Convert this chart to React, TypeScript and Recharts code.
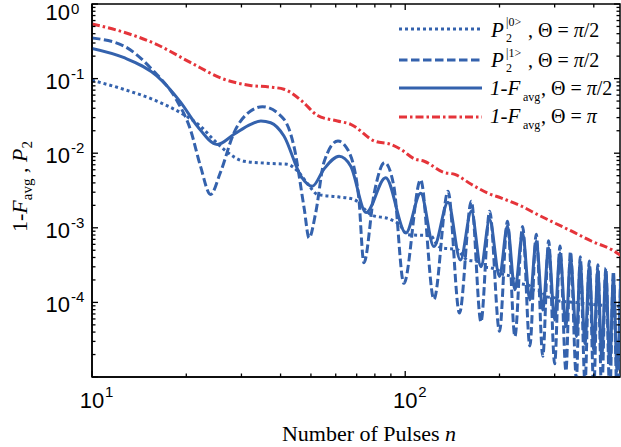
import React from 'react'
import { LineChart, Line, XAxis, YAxis, ReferenceArea } from 'recharts'

const BLUE = '#3462ad'
const RED = '#e5343a'

// [n, value] pairs, log-log axes
const p0Curve: [number, number][] = [
  [10, 0.095], [12.6, 0.072], [16.1, 0.05], [19.6, 0.033], [22.2, 0.023], [24.5, 0.015],
  [26.4, 0.0112], [30.6, 0.0078], [37, 0.0073], [42, 0.0071], [45.3, 0.0058], [49, 0.0038],
  [52.5, 0.0028], [61, 0.0026], [68.6, 0.0024], [74, 0.0018], [77.7, 0.0015], [90, 0.00129],
  [96, 0.0011], [101.6, 0.00081], [121, 0.00078], [124.5, 0.00065], [130, 0.00054],
  [147, 0.00051], [152, 0.00043], [158, 0.00037], [172, 0.00035], [178, 0.0003],
  [188, 0.00029], [198, 0.00027], [204, 0.00024], [218, 0.000223], [224, 0.0002],
  [230, 0.00018], [248, 0.00017], [255, 0.00015], [274, 0.00014], [280, 0.00012],
  [300, 0.000115], [306, 0.000105], [350, 0.0001], [405, 0.000093], [490, 0.000088],
]

const p1Curve: [number, number][] = [
  [10, 0.35], [12.6, 0.275], [15.7, 0.127], [18.7, 0.05], [20.6, 0.021], [22.2, 0.0067],
  [23.9, 0.0028], [25.7, 0.0055], [28.4, 0.0188], [32.1, 0.0368], [35, 0.042], [41, 0.0285],
  [44.1, 0.0125], [47.6, 0.0018], [49.3, 0.00073], [51.8, 0.0016], [55, 0.0075], [61, 0.0146],
  [65.5, 0.0112], [71, 0.00265], [73.8, 0.00034], [79.6, 0.0029], [86, 0.0075], [92, 0.0036],
  [99, 0.00018], [112, 0.0044], [123.5, 0.00011], [137, 0.0031], [149, 0.000072],
  [162.6, 0.00227], [174.5, 0.000055], [186, 0.00167], [200, 0.000041], [212, 0.00122],
  [224, 0.000035], [237, 0.00104], [250, 0.000026], [262, 0.00082], [275, 0.000019],
  [287, 0.00067], [300, 0.000015], [312, 0.00057], [326, 0.000012], [337, 0.00048],
  [352, 0.0000095], [362, 0.00041], [375, 0.000008], [387, 0.00036], [400, 0.000007],
  [412, 0.00032], [424, 0.000006], [437, 0.00029], [450, 0.0000055], [462, 0.00026],
  [475, 0.000005], [487, 0.00023],
]

const infidHalfPi: [number, number][] = [
  [10, 0.254], [12.6, 0.192], [16.1, 0.109], [19.2, 0.048], [21.7, 0.023], [25.1, 0.0131],
  [28.4, 0.0179], [32.1, 0.0244], [34.6, 0.027], [37.2, 0.0256], [41, 0.017], [46.5, 0.0049],
  [50.5, 0.0036], [55, 0.0061], [61.5, 0.0091], [67, 0.0067], [75, 0.0016], [86.6, 0.0047],
  [100.5, 0.00085], [112, 0.0029], [123.5, 0.00056], [137, 0.0022], [150, 0.00037],
  [162.6, 0.00167], [174.5, 0.0003], [186, 0.00129], [200, 0.000223], [212, 0.00105],
  [224, 0.000148], [237, 0.00085], [250, 0.000108], [262, 0.00066], [275, 0.000079],
  [287, 0.00054], [300, 0.000058], [312, 0.00046], [326, 0.000047], [337, 0.0004],
  [352, 0.000035], [362, 0.00034], [375, 0.000028], [387, 0.0003], [400, 0.000023],
  [412, 0.00027], [424, 0.000019], [437, 0.00024], [450, 0.000015], [462, 0.00021],
  [475, 0.000012], [487, 0.00019],
]

const infidPi: [number, number][] = [
  [10, 0.54], [12.6, 0.42], [16, 0.29], [20.6, 0.165], [26.4, 0.098], [32, 0.081],
  [37, 0.077], [41, 0.072], [46.8, 0.05], [52.5, 0.032], [60.8, 0.027], [67, 0.0244],
  [79.6, 0.0146], [90, 0.0131], [97, 0.0112], [107, 0.0084], [115, 0.0078], [133, 0.0055],
  [144, 0.0052], [163, 0.0038], [184, 0.0029], [203, 0.0025], [235, 0.00195], [265, 0.0015],
  [300, 0.00116], [340, 0.0009], [394, 0.00066], [456, 0.00051], [494, 0.00041],
]

const xDomain = [10, 485]
const yDomain = [1e-5, 1]
const xTicks = [10, 20, 30, 40, 50, 60, 70, 80, 90, 100, 200, 300, 400]
const yExponents = [-5, -4, -3, -2, -1]
const yTicks = [
  ...yExponents.flatMap((e) => [1, 2, 3, 4, 5, 6, 7, 8, 9].map((m) => m * Math.pow(10, e))),
  1,
]

const CHART_W = 621
const CHART_H = 447
const MARGIN = { top: 4, right: 1, left: 0, bottom: 0 }
const Y_AXIS_W = 92
const X_AXIS_H = 70
const PLOT_L = MARGIN.left + Y_AXIS_W
const PLOT_T = MARGIN.top
const PLOT_W = CHART_W - MARGIN.left - MARGIN.right - Y_AXIS_W
const PLOT_H = CHART_H - MARGIN.top - MARGIN.bottom - X_AXIS_H

const toRows = (pts: [number, number][]) => pts.map(([n, v]) => ({ n, v }))

const isMajor = (v: number) => {
  const l = Math.log10(v)
  return Math.abs(l - Math.round(l)) < 1e-9
}
const tickLen = (v: number) => (isMajor(v) ? 6 : 3.5)

// same log mapping as the chart's axes, used only for the inward minor/major tick marks
const tickX = (n: number) =>
  PLOT_L + (PLOT_W * Math.log10(n / xDomain[0])) / Math.log10(xDomain[1] / xDomain[0])
const tickY = (v: number) =>
  PLOT_T + PLOT_H * (1 - Math.log10(v / yDomain[0]) / Math.log10(yDomain[1] / yDomain[0]))

const SANS = 'Liberation Sans, Arial, sans-serif'
const SERIF = 'Liberation Serif, Times New Roman, serif'

function XTick(props: any) {
  const x = Number(props.x)
  const y = Number(props.y)
  const v = props.payload.value
  if (!isMajor(v)) return <g />
  const exp = Math.round(Math.log10(v))
  return (
    <g fontFamily={SANS} fill="#000">
      <text x={x} y={y + 31} fontSize={22} textAnchor="middle">10</text>
      <text x={x + 13} y={y + 20} fontSize={15}>{exp}</text>
    </g>
  )
}

function YTick(props: any) {
  const y = Number(props.y)
  const v = props.payload.value
  const exp = Math.round(Math.log10(v))
  if (!isMajor(v) || exp <= -5) return <g />
  const base = exp === 0 ? y + 16 : y + 10
  const sup = exp === 0 ? y + 10 : y
  return (
    <g fontFamily={SANS} fill="#000">
      <text x={70} y={base} fontSize={22} textAnchor="end">10</text>
      <text x={71} y={sup} fontSize={15}>{exp === 0 ? '0' : `-${-exp}`}</text>
    </g>
  )
}

function YTitle(props: any) {
  const vb = props.viewBox || { x: 0, y: PLOT_T, width: Y_AXIS_W, height: PLOT_H }
  const cx = 27
  const cy = vb.y + vb.height / 2 - 4
  return (
    <text
      x={cx}
      y={cy}
      transform={`rotate(-90, ${cx}, ${cy})`}
      textAnchor="middle"
      fontFamily={SERIF}
      fontSize={22}
      fill="#000"
    >
      1-<tspan fontStyle="italic">F</tspan>
      <tspan fontSize={15} dy={5}>avg</tspan>
      <tspan dy={-5}> , </tspan>
      <tspan fontStyle="italic">P</tspan>
      <tspan fontSize={15} dy={5}>2</tspan>
    </text>
  )
}

function XTitle(props: any) {
  const vb = props.viewBox || { x: PLOT_L, y: PLOT_T + PLOT_H, width: PLOT_W, height: X_AXIS_H }
  return (
    <text
      x={vb.x + vb.width / 2 + 13}
      y={vb.y + 64}
      textAnchor="middle"
      fontFamily={SERIF}
      fontSize={22}
      fill="#000"
    >
      Number of Pulses <tspan fontStyle="italic">n</tspan>
    </text>
  )
}

function TickMarks() {
  const bottom = PLOT_T + PLOT_H
  const right = PLOT_L + PLOT_W
  return (
    <g stroke="#000" strokeWidth={1.3}>
      {xTicks.map((n) => (
        <g key={`x${n}`}>
          <line x1={tickX(n)} x2={tickX(n)} y1={bottom} y2={bottom - tickLen(n)} />
          <line x1={tickX(n)} x2={tickX(n)} y1={PLOT_T} y2={PLOT_T + tickLen(n)} />
        </g>
      ))}
      {yTicks.map((v) => (
        <g key={`y${v}`}>
          <line x1={PLOT_L} x2={PLOT_L + tickLen(v)} y1={tickY(v)} y2={tickY(v)} />
          <line x1={right} x2={right - tickLen(v)} y1={tickY(v)} y2={tickY(v)} />
        </g>
      ))}
    </g>
  )
}

function LegendOverlay() {
  const lx1 = 399
  const lx2 = 482
  return (
    <svg
      width={CHART_W}
      height={CHART_H}
      style={{ position: 'absolute', left: 0, top: 0, pointerEvents: 'none' }}
      fontFamily={SERIF}
      fill="#000"
    >
      <TickMarks />
      <line x1={lx1} x2={lx2} y1={29} y2={29} stroke={BLUE} strokeWidth={3} strokeDasharray="3 3" />
      <text x={491} y={37} fontSize={21} fontStyle="italic">P</text>
      <text x={506} y={26} fontSize={12}>|0&gt;</text>
      <text x={506} y={42} fontSize={12}>2</text>
      <text x={528} y={37} fontSize={20}>, Θ = <tspan fontStyle="italic">π</tspan>/2</text>

      <line x1={lx1} x2={lx2} y1={60} y2={60} stroke={BLUE} strokeWidth={3} strokeDasharray="8.5 3.5" />
      <text x={491} y={67} fontSize={21} fontStyle="italic">P</text>
      <text x={506} y={57} fontSize={12}>|1&gt;</text>
      <text x={506} y={72} fontSize={12}>2</text>
      <text x={528} y={67} fontSize={20}>, Θ = <tspan fontStyle="italic">π</tspan>/2</text>

      <line x1={lx1} x2={lx2} y1={88} y2={88} stroke={BLUE} strokeWidth={3} />
      <text x={490} y={95} fontSize={21} fontStyle="italic">1-F</text>
      <text x={523} y={101} fontSize={12}>avg</text>
      <text x={541} y={95} fontSize={20}>, Θ = <tspan fontStyle="italic">π</tspan>/2</text>

      <line x1={lx1} x2={lx2} y1={117} y2={117} stroke={RED} strokeWidth={3} strokeDasharray="8 3 2.5 3" />
      <text x={490} y={123} fontSize={21} fontStyle="italic">1-F</text>
      <text x={523} y={129} fontSize={12}>avg</text>
      <text x={541} y={123} fontSize={20}>, Θ = <tspan fontStyle="italic">π</tspan></text>
    </svg>
  )
}

export default function App() {
  const axisLine = { stroke: '#000', strokeWidth: 1.5 }
  return (
    <div style={{ position: 'absolute', left: 0, top: 0, width: CHART_W, height: CHART_H, background: '#fff' }}>
      <LineChart width={CHART_W} height={CHART_H} margin={MARGIN}>
        <XAxis
          dataKey="n"
          type="number"
          scale="log"
          domain={xDomain}
          allowDataOverflow
          ticks={xTicks}
          interval={0}
          height={X_AXIS_H}
          tickSize={0}
          tickMargin={0}
          tickLine={false}
          axisLine={axisLine}
          tick={<XTick />}
          label={<XTitle />}
        />
        <YAxis
          type="number"
          scale="log"
          domain={yDomain}
          allowDataOverflow
          ticks={yTicks}
          interval={0}
          width={Y_AXIS_W}
          tickSize={0}
          tickMargin={0}
          tickLine={false}
          axisLine={axisLine}
          tick={<YTick />}
          label={<YTitle />}
        />
        <ReferenceArea
          x1={xDomain[0]}
          x2={xDomain[1]}
          y1={yDomain[0]}
          y2={yDomain[1]}
          fill="none"
          fillOpacity={0}
          stroke="#000"
          strokeWidth={1.5}
        />
        <Line
          data={toRows(infidPi)}
          dataKey="v"
          type="monotone"
          stroke={RED}
          strokeWidth={3}
          strokeDasharray="8 3 2.5 3"
          dot={false}
          isAnimationActive={false}
        />
        <Line
          data={toRows(p0Curve)}
          dataKey="v"
          type="monotone"
          stroke={BLUE}
          strokeWidth={3}
          strokeDasharray="3 3"
          dot={false}
          isAnimationActive={false}
        />
        <Line
          data={toRows(infidHalfPi)}
          dataKey="v"
          type="monotone"
          stroke={BLUE}
          strokeWidth={3}
          dot={false}
          isAnimationActive={false}
        />
        <Line
          data={toRows(p1Curve)}
          dataKey="v"
          type="monotone"
          stroke={BLUE}
          strokeWidth={3}
          strokeDasharray="8.5 3.5"
          dot={false}
          isAnimationActive={false}
        />
      </LineChart>
      <LegendOverlay />
    </div>
  )
}
